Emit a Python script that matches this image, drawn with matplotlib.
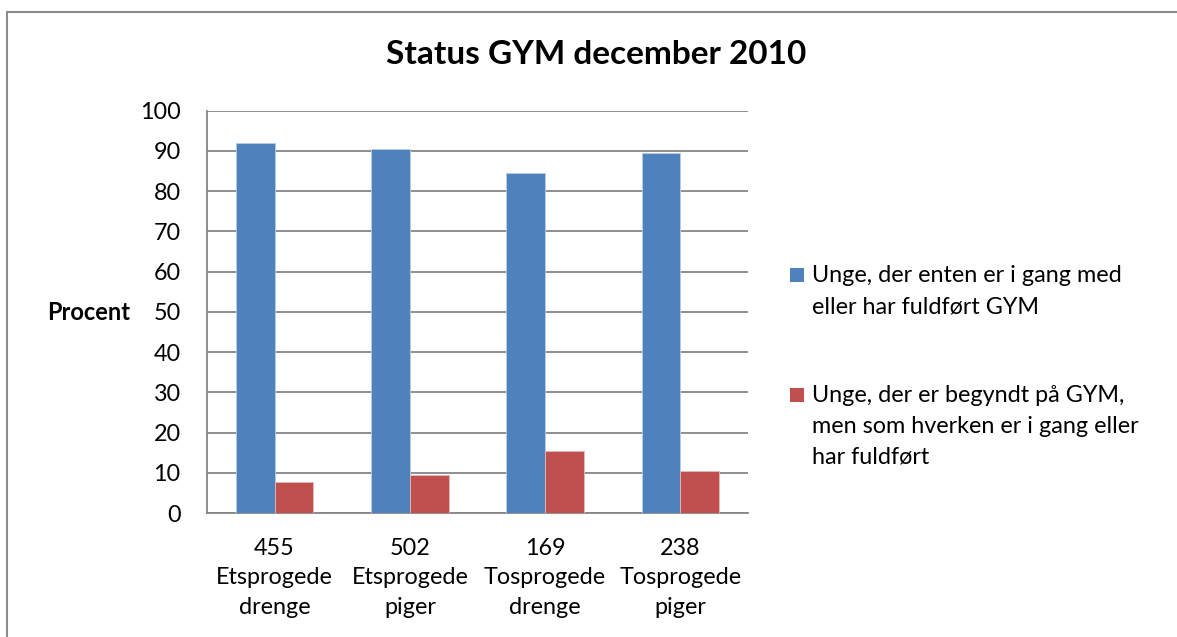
import matplotlib
matplotlib.use("Agg")
import matplotlib.pyplot as plt
from matplotlib.patches import Rectangle
import numpy as np

plt.rcParams['font.family'] = ['Lato', 'DejaVu Sans']

TITLE = "Status GYM december 2010"
CATEGORIES = ["455\nEtsprogede\ndrenge", "502\nEtsprogede\npiger",
              "169\nTosprogede\ndrenge", "238\nTosprogede\npiger"]
SERIES_NAMES = ["Unge, der enten er i gang med\neller har fuldført GYM",
                "Unge, der er begyndt på GYM,\nmen som hverken er i gang eller\nhar fuldført"]
ACTIVE = [92.0, 90.4, 84.6, 89.5]
DROPPED = [7.8, 9.4, 15.3, 10.4]
YTICKS = list(range(0, 101, 10))

BLUE = "#4F81BD"
RED = "#C0504D"
GRID = "#868686"
FS = 16.8

W, H = 1177, 637
fig = plt.figure(figsize=(W / 100, H / 100), dpi=100)
fig.patch.set_facecolor("white")

# chart area border (runs off the right and bottom edges)
fig.add_artist(Rectangle((7 / W, -0.1), 1.0, 1 - 11.5 / H + 0.1, transform=fig.transFigure,
                         fill=False, edgecolor="#8C8C8C", linewidth=1.5))

ax = fig.add_axes([207 / W, 1 - 513 / H, (748 - 207) / W, (513 - 110.7) / H])
x = np.arange(len(CATEGORIES))
bw = 0.286
b1 = ax.bar(x - bw / 2, ACTIVE, bw, color=BLUE, edgecolor="#B9CDE5", linewidth=0.6, zorder=3)
b2 = ax.bar(x + bw / 2, DROPPED, bw, color=RED, edgecolor="#E6B9B8", linewidth=0.6, zorder=3)

ax.set_xlim(-0.5, len(CATEGORIES) - 0.5)
ax.set_ylim(0, 100)
ax.set_yticks(YTICKS)
ax.set_xticks(x)
ax.set_xticklabels(CATEGORIES, fontsize=FS, linespacing=1.5)
ax.tick_params(axis="x", length=0, pad=18)
ax.tick_params(axis="y", length=0, pad=19, labelsize=FS)
ax.yaxis.grid(True, color=GRID, linewidth=1.3, zorder=0)
ax.set_axisbelow(True)
for s in ("top", "right"):
    ax.spines[s].set_visible(False)
for s in ("left", "bottom"):
    ax.spines[s].set_color(GRID)
    ax.spines[s].set_linewidth(1.3)

fig.text(596 / W, 1 - 55 / H, TITLE, ha="center", va="center", fontsize=24, fontweight="bold")
fig.text(89 / W, 1 - 313 / H, "Procent", ha="center", va="center", fontsize=17, fontweight="bold")

# legend drawn by hand so the squares sit on the first line of each label
legend_baselines = [282, 402]
line_step = 31
for bars, name, base in zip((b1, b2), SERIES_NAMES, legend_baselines):
    color = bars.patches[0].get_facecolor()
    fig.add_artist(Rectangle((790 / W, 1 - base / H), 14 / W, 14 / H,
                             transform=fig.transFigure, facecolor=color, edgecolor="none"))
    for i, line in enumerate(name.split("\n")):
        fig.text(812 / W, 1 - (base + i * line_step) / H, line,
                 ha="left", va="baseline", fontsize=FS)

fig.savefig("out.png", dpi=100, facecolor="white")
